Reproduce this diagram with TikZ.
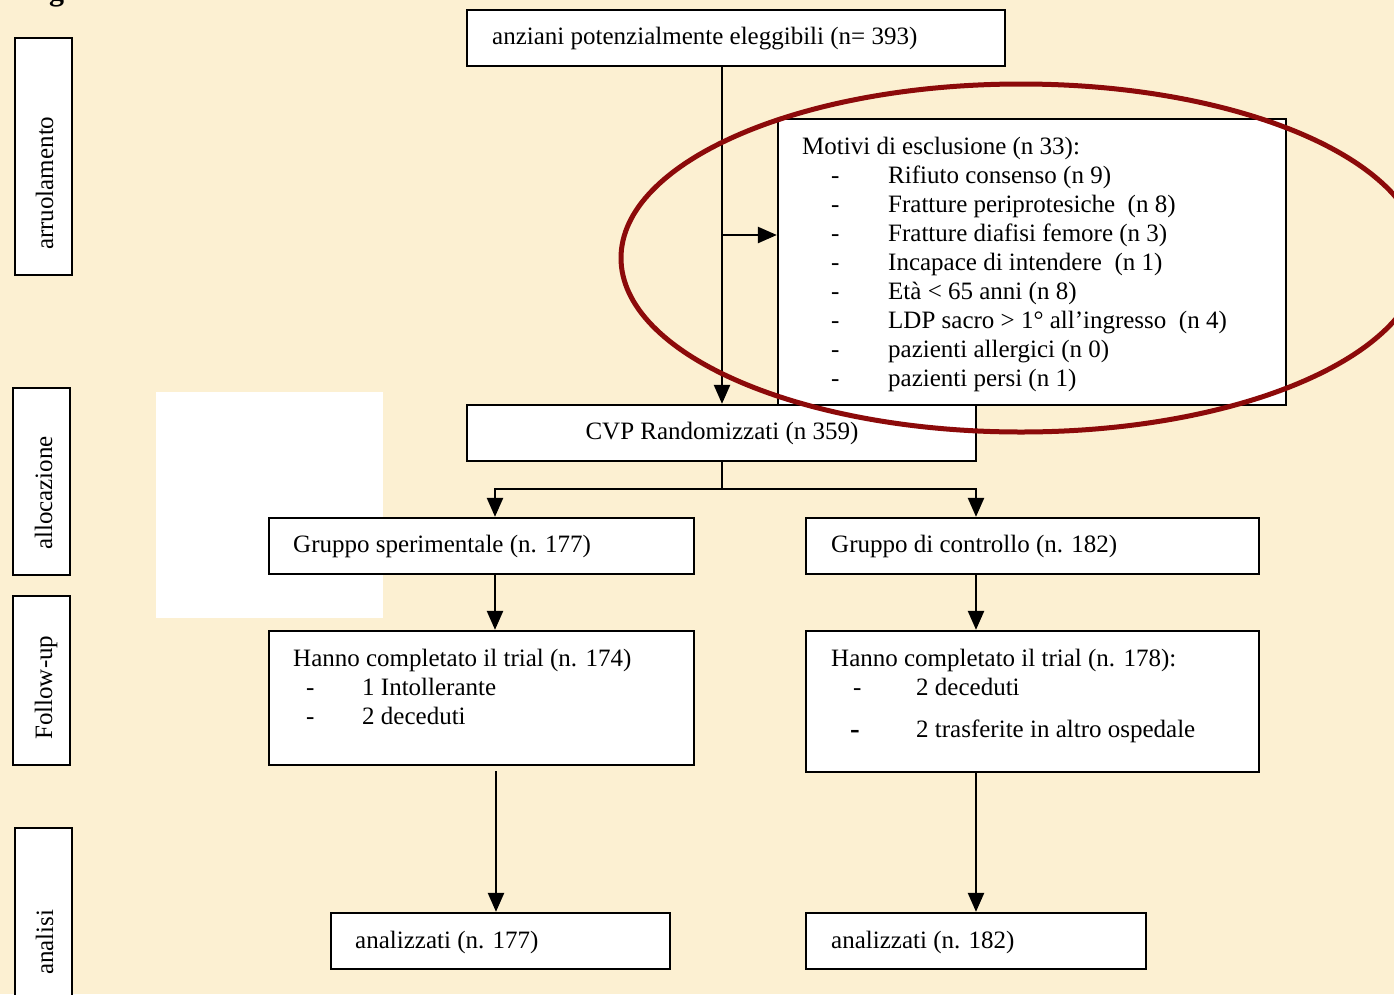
\documentclass[tikz,border=0pt]{standalone}
\usepackage{fontspec}
\setmainfont{Liberation Serif}
\usetikzlibrary{arrows.meta}
\definecolor{parch}{RGB}{252,240,210}
\definecolor{ellred}{RGB}{140,10,10}
\newcommand\mybx[5]{\node[box, minimum width={#4-#2}, minimum height={#5-#3}] (#1) at ({(#2+#4)/2},{(#3+#5)/2}) {};}
\begin{document}
\begin{tikzpicture}[x=1pt,y=-1pt,
  box/.style={draw=black, fill=white, line width=2.3pt, rectangle, inner sep=0pt},
  arr/.style={line width=2.4pt, -{Triangle[length=19pt,width=16pt]}},
  txt/.style={anchor=base west, inner sep=0pt, font=\fontsize{25}{29}\selectfont},
  ctxt/.style={txt, anchor=base},
  side/.style={txt, rotate=90},
]
\useasboundingbox (0,0) rectangle (1394,994);
\fill[parch] (0,0) rectangle (1394,994);
\node[anchor=base west, inner sep=0pt, font=\fontsize{30}{36}\selectfont\bfseries] (hdg) at (49,0) {g};
\fill[white] (156,392) rectangle (383,618);

% side boxes
\mybx{s1}{15}{38}{72}{275}
\mybx{s2}{13}{388}{70}{575}
\mybx{s3}{13}{596}{70}{765}
\mybx{s4}{15}{828}{72}{1010}
\node[side] (l1) at (53,250) {arruolamento};
\node[side] (l2) at (52,550) {allocazione};
\node[side] (l3) at (52,740) {Follow-up};
\node[side] (l4) at (53,975) {analisi};

% main boxes
\mybx{top}{467}{10}{1005}{66}
\mybx{excl}{778}{119}{1286}{405}
\mybx{cvp}{467}{405}{976}{461}
\mybx{gs}{269}{518}{694}{574}
\mybx{gc}{806}{518}{1259}{574}
\mybx{hl}{269}{631}{694}{765}
\mybx{hr}{806}{631}{1259}{772}
\mybx{al}{331}{913}{670}{969}
\mybx{ar}{806}{913}{1146}{969}

% texts
\node[txt] (ttop) at (492,44) {anziani potenzialmente eleggibili (n= 393)};
\node[txt] (e0) at (802,154) {Motivi di esclusione (n 33):};
\foreach \yy/\tt [count=\i] in {183/Rifiuto consenso (n 9),
  212/{Fratture periprotesiche\ \ (n 8)},
  241/Fratture diafisi femore (n 3),
  270/{Incapace di intendere\ \ (n 1)},
  299/{Età < 65 anni (n 8)},
  328/{LDP sacro > 1° all’ingresso\ \ (n 4)},
  357/pazienti allergici (n 0),
  386/pazienti persi (n 1)} {
  \node[txt] (ed\i) at (831,\yy) {-};
  \node[txt] (ei\i) at (888,\yy) {\tt};
}
\node[ctxt] (tcvp) at (722,439) {CVP Randomizzati (n 359)};
\node[txt] (tgs) at (293,552) {Gruppo sperimentale (n. 177)};
\node[txt] (tgc) at (831,552) {Gruppo di controllo (n. 182)};
\node[txt] (thl) at (293,666) {Hanno completato il trial (n. 174)};
\node[txt] (hld1) at (306,695) {-};
\node[txt] (hli1) at (362,695) {1 Intollerante};
\node[txt] (hld2) at (306,724) {-};
\node[txt] (hli2) at (362,724) {2 deceduti};
\node[txt] (thr) at (831,666) {Hanno completato il trial (n. 178):};
\node[txt] (hrd1) at (853,695) {-};
\node[txt] (hri1) at (916,695) {2 deceduti};
\node[txt, font=\fontsize{29}{29}\selectfont\bfseries] (hrd2) at (850,738) {-};
\node[txt] (hri2) at (916,737) {2 trasferite in altro ospedale};
\node[txt] (tal) at (355,948) {analizzati (n. 177)};
\node[txt] (tar) at (831,948) {analizzati (n. 182)};

% connectors
\coordinate (j1) at (722,235);
\draw[arr] (top.south -| j1) -- (cvp.north -| j1);
\draw[arr] (j1) -- (j1 -| excl.west);
\coordinate (sp) at (722,489);
\coordinate (bl) at (495,489);
\coordinate (br) at (976,489);
\draw[arr] (cvp.south -| sp) -- (sp) -| (gs.north -| bl);
\draw[arr] (sp) -| (gc.north -| br);
\draw[arr] (gs.south -| bl) -- (hl.north -| bl);
\draw[arr] (gc.south -| br) -- (hr.north -| br);
\coordinate (d1) at (496,771);
\draw[arr] (d1) -- (al.north -| d1);
\draw[arr] (hr.south -| ar) -- (ar.north);

% highlight ellipse
\draw[ellred, line width=5pt] (1021,258) ellipse [x radius=400, y radius=174];
\end{tikzpicture}
\end{document}
